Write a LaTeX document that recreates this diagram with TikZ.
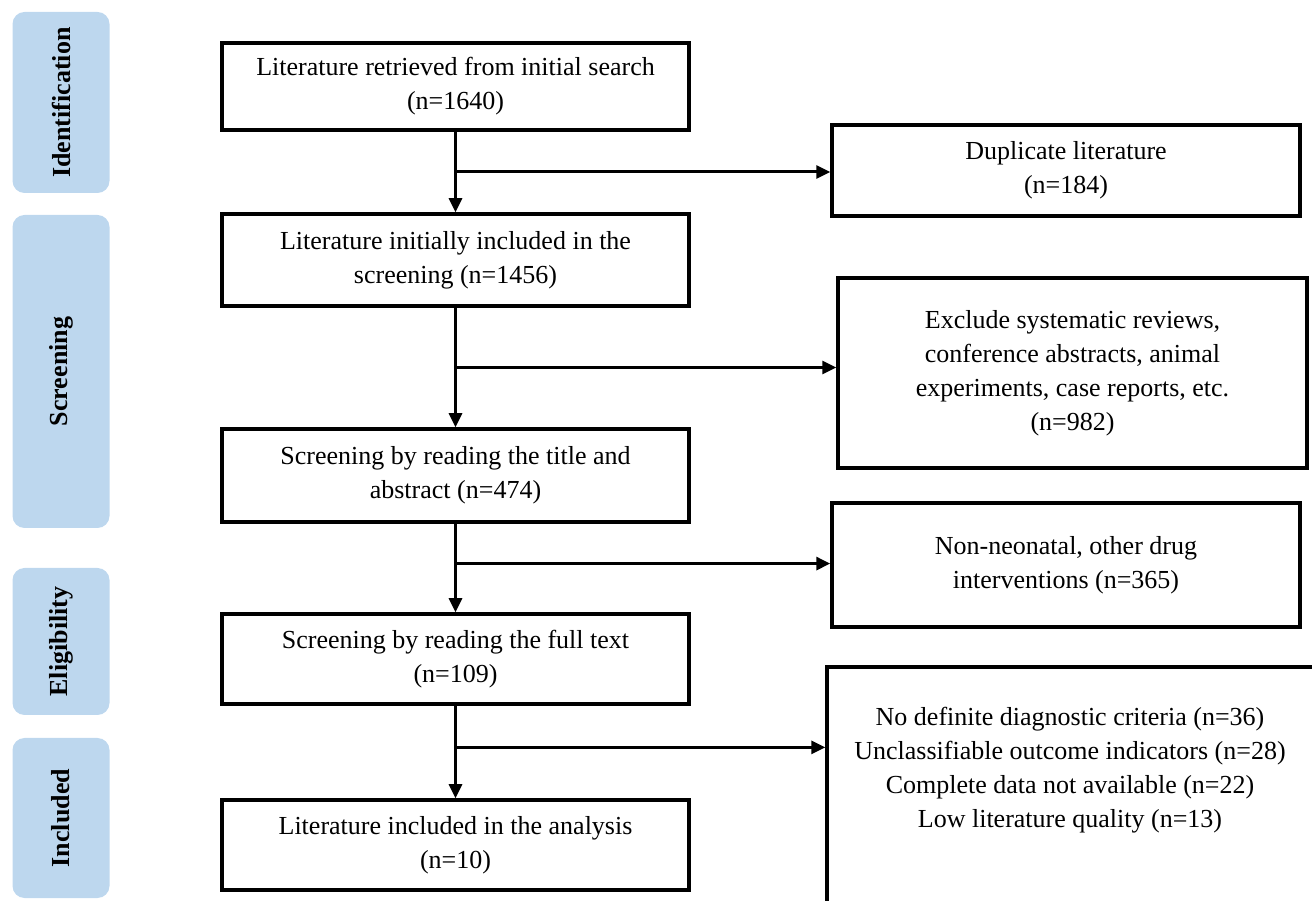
\documentclass[tikz,border=0pt]{standalone}
\usepackage{fontspec}
\setmainfont{Liberation Serif}
\usetikzlibrary{arrows.meta,positioning,calc}
\definecolor{phaseblue}{HTML}{BDD7EE}

\begin{document}
\begin{tikzpicture}[>={Triangle[length=14pt,width=13pt]}, x=1pt, y=1pt,
	box/.style={draw, line width=3.5pt, align=center, inner sep=0pt,
		minimum width=467pt, minimum height=90pt, font=\fontsize{26}{34}\selectfont},
	phase/.style={fill=phaseblue, rounded corners=12pt, rotate=90,
		minimum height=97pt, font=\bfseries\fontsize{26}{30}\selectfont},
	flow/.style={line width=3pt}]
	\useasboundingbox (0,0) rectangle (1312,900);
	\clip (0,0) rectangle (1312,900);

	% phases
	\node[phase, minimum width=181pt] (ident) at (61,797.5) {Identification};
	\node[phase, minimum width=313pt] (scr) at (61,528.5) {Screening};
	\node[phase, minimum width=147pt] (elig) at (61,258.5) {Eligibility};
	\node[phase, minimum width=160pt] (incl) at (61,82) {Included};

	% main column
	\node[box, minimum height=87pt] (lit) at (455.5,813.5) {Literature retrieved from initial search\\(n=1640)};
	\node[box, minimum height=92pt] (init) [below=80.5pt of lit] {Literature initially included in the\\screening (n=1456)};
	\node[box, minimum height=93pt] (title) [below=119.5pt of init] {Screening by reading the title and\\abstract (n=474)};
	\node[box] (full) [below=88.5pt of title] {Screening by reading the full text\\(n=109)};
	\node[box] (anal) [below=92.5pt of full] {Literature included in the analysis\\(n=10)};

	% excluded
	\node[box, minimum width=468pt, minimum height=91pt] (dup) at (1066,729.5) {Duplicate literature\\(n=184)};
	\node[box, minimum width=469pt, minimum height=190pt] (excl) at (1072.5,527) {Exclude systematic reviews,\\conference abstracts, animal\\experiments, case reports, etc.\\(n=982)};
	\node[box, minimum width=468pt, minimum height=124pt] (nonneo) at (1066,335) {Non-neonatal, other drug\\interventions (n=365)};
	\node[box, minimum width=490pt, minimum height=263pt] (reasons) at (1072,101.5) {};
	\node[align=center, font=\fontsize{26}{34}\selectfont] (reasonstext) at (1070,130) {No definite diagnostic criteria (n=36)\\Unclassifiable outcome indicators (n=28)\\Complete data not available (n=22)\\Low literature quality (n=13)};

	\coordinate (b1) at ($(lit.south)!0.5!(init.north)$);
	\coordinate (b2) at ($(init.south)!0.5!(title.north)$);
	\coordinate (b3) at ($(title.south)!0.45!(full.north)$);
	\coordinate (b4) at ($(full.south)!0.45!(anal.north)$);

	\path[->, flow]
	(lit) edge (init)
	(init) edge (title)
	(title) edge (full)
	(full) edge (anal)

	(b1) edge (dup.west |- b1)
	(b2) edge (excl.west |- b2)
	(b3) edge (nonneo.west |- b3)
	(b4) edge (reasons.west |- b4)
	;
\end{tikzpicture}
\end{document}
